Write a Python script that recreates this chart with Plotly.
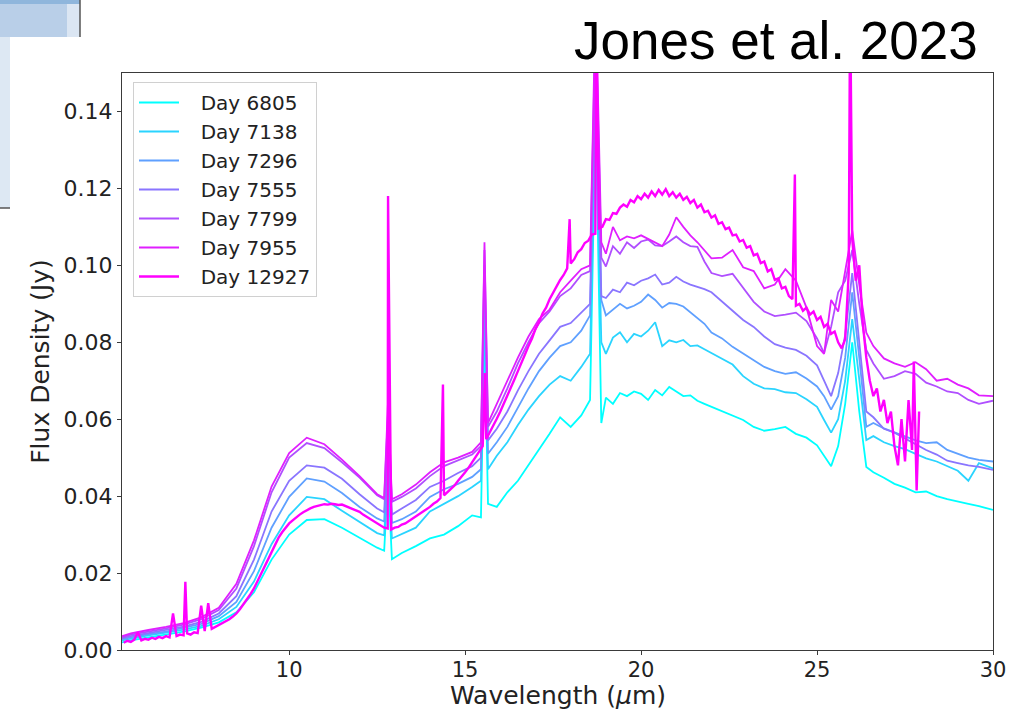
import plotly.graph_objects as go

# ---------------- data ----------------
wl_spitzer = [5.25, 5.5, 6.0, 6.5, 7.0, 7.5, 8.0, 8.5, 9.0, 9.5, 10.0, 10.5, 11.0, 11.5, 12.0,
              12.5, 12.7, 12.81, 12.92, 13.2, 13.6, 14.0, 14.4, 14.8, 15.2, 15.45, 15.55, 15.65,
              15.9, 16.2, 16.5, 16.8, 17.1, 17.4, 17.7, 18.0, 18.3, 18.55, 18.71, 18.87, 19.0,
              19.2, 19.4, 19.6, 19.8, 20.0, 20.2, 20.4, 20.6, 20.8, 21.0, 21.2, 21.4, 21.6, 21.8,
              22.0, 22.3, 22.6, 22.9, 23.2, 23.5, 23.8, 24.1, 24.4, 24.7, 25.0, 25.2, 25.4, 25.6,
              25.8, 26.0, 26.2, 26.4, 26.6, 26.9, 27.2, 27.5, 27.8, 28.1, 28.4, 28.7, 29.0, 29.3,
              29.6, 30.0]

flux_6805 = [0.0020, 0.0025, 0.0033, 0.0040, 0.0048, 0.0058, 0.0072, 0.0098, 0.0150, 0.0235,
             0.0300, 0.0338, 0.0340, 0.0318, 0.0292, 0.0266, 0.0258, 0.0450, 0.0236, 0.0252,
             0.0270, 0.0290, 0.0300, 0.0322, 0.0350, 0.0345, 0.0850, 0.0380, 0.0372, 0.0410,
             0.0440, 0.0480, 0.0520, 0.0562, 0.0605, 0.0580, 0.0610, 0.0650, 0.1400, 0.0590,
             0.0656, 0.0640, 0.0668, 0.0660, 0.0672, 0.0666, 0.0650, 0.0676, 0.0662, 0.0684,
             0.0672, 0.0660, 0.0662, 0.0648, 0.0640, 0.0632, 0.0622, 0.0608, 0.0598, 0.0580,
             0.0570, 0.0574, 0.0580, 0.0562, 0.0552, 0.0532, 0.0505, 0.0478, 0.0530, 0.0640,
             0.0800, 0.0620, 0.0476, 0.0462, 0.0448, 0.0432, 0.0422, 0.0410, 0.0412, 0.0400,
             0.0392, 0.0385, 0.0380, 0.0374, 0.0364]

flux_7138 = [0.0025, 0.0030, 0.0038, 0.0045, 0.0053, 0.0063, 0.0080, 0.0112, 0.0178, 0.0275,
             0.0350, 0.0398, 0.0392, 0.0362, 0.0332, 0.0304, 0.0298, 0.0500, 0.0290, 0.0302,
             0.0318, 0.0360, 0.0380, 0.0400, 0.0424, 0.0440, 0.0900, 0.0470, 0.0505, 0.0540,
             0.0585, 0.0625, 0.0660, 0.0690, 0.0712, 0.0700, 0.0736, 0.0770, 0.1450, 0.0800,
             0.0770, 0.0812, 0.0826, 0.0800, 0.0822, 0.0815, 0.0830, 0.0852, 0.0790, 0.0805,
             0.0800, 0.0806, 0.0790, 0.0792, 0.0782, 0.0772, 0.0758, 0.0742, 0.0712, 0.0692,
             0.0680, 0.0678, 0.0670, 0.0668, 0.0652, 0.0632, 0.0598, 0.0565, 0.0600, 0.0700,
             0.0860, 0.0700, 0.0546, 0.0556, 0.0540, 0.0530, 0.0522, 0.0510, 0.0498, 0.0490,
             0.0478, 0.0466, 0.0440, 0.0486, 0.0472]

flux_7296 = [0.0028, 0.0033, 0.0041, 0.0048, 0.0057, 0.0068, 0.0088, 0.0125, 0.0205, 0.0318,
             0.0398, 0.0446, 0.0438, 0.0408, 0.0372, 0.0342, 0.0334, 0.0550, 0.0330, 0.0340,
             0.0360, 0.0398, 0.0418, 0.0432, 0.0450, 0.0470, 0.0950, 0.0510, 0.0540, 0.0580,
             0.0630, 0.0680, 0.0725, 0.0760, 0.0790, 0.0800, 0.0830, 0.0870, 0.1500, 0.0910,
             0.0870, 0.0885, 0.0900, 0.0888, 0.0895, 0.0905, 0.0924, 0.0910, 0.0890, 0.0902,
             0.0900, 0.0893, 0.0878, 0.0862, 0.0848, 0.0825, 0.0810, 0.0788, 0.0770, 0.0752,
             0.0736, 0.0725, 0.0718, 0.0722, 0.0706, 0.0685, 0.0660, 0.0625, 0.0660, 0.0760,
             0.0930, 0.0760, 0.0580, 0.0590, 0.0576, 0.0566, 0.0556, 0.0545, 0.0538, 0.0540,
             0.0520, 0.0510, 0.0500, 0.0494, 0.0490]

flux_7555 = [0.0030, 0.0036, 0.0044, 0.0052, 0.0061, 0.0073, 0.0095, 0.0140, 0.0235, 0.0360,
             0.0440, 0.0480, 0.0474, 0.0445, 0.0405, 0.0368, 0.0358, 0.0580, 0.0352, 0.0368,
             0.0390, 0.0424, 0.0440, 0.0460, 0.0478, 0.0500, 0.1000, 0.0545, 0.0575, 0.0620,
             0.0675, 0.0725, 0.0770, 0.0805, 0.0840, 0.0850, 0.0878, 0.0900, 0.1600, 0.0920,
             0.0915, 0.0937, 0.0930, 0.0955, 0.0948, 0.0960, 0.0966, 0.0976, 0.0950, 0.0955,
             0.0970, 0.0958, 0.0950, 0.0945, 0.0938, 0.0930, 0.0905, 0.0882, 0.0858, 0.0840,
             0.0815, 0.0795, 0.0786, 0.0780, 0.0765, 0.0740, 0.0700, 0.0660, 0.0720, 0.0820,
             0.0980, 0.0800, 0.0620, 0.0605, 0.0575, 0.0565, 0.0550, 0.0535, 0.0520, 0.0508,
             0.0492, 0.0486, 0.0480, 0.0476, 0.0468]

flux_7799 = [0.0033, 0.0040, 0.0048, 0.0056, 0.0066, 0.0080, 0.0104, 0.0160, 0.0270, 0.0410,
             0.0500, 0.0538, 0.0525, 0.0488, 0.0448, 0.0402, 0.0392, 0.0620, 0.0385, 0.0398,
             0.0420, 0.0452, 0.0478, 0.0492, 0.0508, 0.0530, 0.1040, 0.0580, 0.0620, 0.0680,
             0.0745, 0.0800, 0.0850, 0.0880, 0.0920, 0.0940, 0.0975, 0.0985, 0.1650, 0.1020,
             0.0997, 0.1050, 0.1030, 0.1060, 0.1045, 0.1062, 0.1067, 0.1052, 0.1050, 0.1062,
             0.1075, 0.1060, 0.1050, 0.1048, 0.1010, 0.0980, 0.0972, 0.0978, 0.0940, 0.0905,
             0.0880, 0.0868, 0.0872, 0.0877, 0.0855, 0.0810, 0.0772, 0.0840, 0.0930, 0.0960,
             0.1040, 0.0900, 0.0780, 0.0745, 0.0705, 0.0712, 0.0725, 0.0718, 0.0695, 0.0685,
             0.0672, 0.0668, 0.0650, 0.0640, 0.0648]

flux_7955 = [0.0036, 0.0043, 0.0052, 0.0060, 0.0070, 0.0085, 0.0110, 0.0172, 0.0285, 0.0425,
             0.0512, 0.0552, 0.0535, 0.0495, 0.0452, 0.0405, 0.0395, 0.0650, 0.0392, 0.0405,
             0.0430, 0.0462, 0.0488, 0.0500, 0.0515, 0.0540, 0.1060, 0.0590, 0.0640, 0.0700,
             0.0760, 0.0815, 0.0860, 0.0885, 0.0930, 0.0960, 0.0990, 0.1000, 0.1700, 0.1060,
             0.1030, 0.1100, 0.1065, 0.1075, 0.1070, 0.1078, 0.1068, 0.1060, 0.1050, 0.1080,
             0.1125, 0.1100, 0.1078, 0.1060, 0.1040, 0.1018, 0.1020, 0.1040, 0.0995, 0.0985,
             0.0940, 0.0950, 0.0990, 0.0960, 0.0890, 0.0790, 0.0770, 0.0910, 0.0880, 0.0980,
             0.1090, 0.0950, 0.0825, 0.0790, 0.0758, 0.0745, 0.0736, 0.0748, 0.0730, 0.0700,
             0.0705, 0.0690, 0.0680, 0.0662, 0.0660]

# JWST (Day 12927): regular 0.1 um sampling from 5.3 to 27.9 um ...
wl_12927_start = 5.3
wl_12927_step = 0.1
flux_12927 = [
    0.0019, 0.0024, 0.0021, 0.0027, 0.0046, 0.0025, 0.0029,
    0.0027, 0.0032, 0.0029, 0.0034, 0.0031, 0.0036, 0.0033, 0.0095, 0.0036, 0.0040,
    0.0038, 0.0043, 0.0040, 0.0046, 0.0044, 0.0115, 0.0049, 0.0122, 0.0055, 0.0060,
    0.0064, 0.0068, 0.0074, 0.0080, 0.0087, 0.0095, 0.0106, 0.0118, 0.0131, 0.0145,
    0.0160, 0.0179, 0.0198, 0.0218, 0.0239, 0.0258, 0.0276, 0.0292, 0.0306, 0.0318,
    0.0329, 0.0337, 0.0345, 0.0352, 0.0358, 0.0364, 0.0368, 0.0372, 0.0375, 0.0377,
    0.0379, 0.0378, 0.0380, 0.0379, 0.0377, 0.0378, 0.0374, 0.0371, 0.0368, 0.0363,
    0.0359, 0.0352, 0.0346, 0.0340, 0.0334, 0.0329, 0.0323, 0.0318, 0.0316, 0.0313,
    0.0318, 0.0320, 0.0326, 0.0329, 0.0335, 0.0340, 0.0346, 0.0352, 0.0358, 0.0366,
    0.0372, 0.0380, 0.0386, 0.0395, 0.0402, 0.0410, 0.0420, 0.0428, 0.0440, 0.0450,
    0.0462, 0.0474, 0.0488, 0.0502, 0.0516, 0.0530, 0.0548, 0.0566, 0.0582, 0.0601,
    0.0620, 0.0640, 0.0660, 0.0682, 0.0703, 0.0725, 0.0745, 0.0768, 0.0790, 0.0810,
    0.0835, 0.0852, 0.0875, 0.0890, 0.0912, 0.0930, 0.0945, 0.0962, 0.0975, 0.0992,
    0.1005, 0.1016, 0.1034, 0.1042, 0.1058, 0.1064, 0.1080, 0.1082, 0.1096, 0.1100,
    0.1120, 0.1118, 0.1136, 0.1134, 0.1150, 0.1158, 0.1152, 0.1170, 0.1164, 0.1180,
    0.1172, 0.1186, 0.1176, 0.1192, 0.1180, 0.1196, 0.1184, 0.1198, 0.1180, 0.1190,
    0.1176, 0.1186, 0.1170, 0.1178, 0.1162, 0.1170, 0.1150, 0.1158, 0.1138, 0.1142,
    0.1124, 0.1130, 0.1108, 0.1112, 0.1094, 0.1098, 0.1078, 0.1080, 0.1062, 0.1066,
    0.1046, 0.1050, 0.1026, 0.1030, 0.1006, 0.1010, 0.0984, 0.0990, 0.0962, 0.0966,
    0.0940, 0.0944, 0.0920, 0.0912, 0.0895, 0.0900, 0.0882, 0.0890, 0.0872, 0.0880,
    0.0858, 0.0866, 0.0840, 0.0848, 0.0822, 0.0828, 0.0800, 0.0784, 0.0808, 0.0980,
    0.1070, 0.0960, 0.1000, 0.0850, 0.0760, 0.0700, 0.0660, 0.0680, 0.0620, 0.0650,
    0.0590, 0.0620, 0.0530, 0.0480, 0.0600, 0.0490, 0.0650, 0.0520, 0.0560, 0.0620,
]
# ... plus narrow emission lines / glitches of the JWST spectrum
line_wl_12927 = [7.05, 12.81, 14.37, 15.56, 17.97, 18.72, 24.37, 25.94, 27.75, 27.83]
line_flux_12927 = [0.0177, 0.118, 0.069, 0.072, 0.112, 0.17, 0.1236, 0.17, 0.075, 0.0415]

series_names = ["Day 6805", "Day 7138", "Day 7296", "Day 7555", "Day 7799", "Day 7955", "Day 12927"]
series_colors = ["#00ffff", "#2ad4ff", "#5fa0ff", "#8a75ff", "#b04fff", "#e01fff", "#ff00ff"]

x_ticks = [10, 15, 20, 25, 30]
y_ticks = [0.00, 0.02, 0.04, 0.06, 0.08, 0.10, 0.12, 0.14]

# ---------------- figure ----------------
W, H = 1018, 709
L, R, T, B = 122, 25, 73, 59
pw, ph = W - L - R, H - T - B


def px(xp):
    return (xp - L) / pw


def py(yp):
    return (H - B - yp) / ph


fig = go.Figure()

spitzer_fluxes = [flux_6805, flux_7138, flux_7296, flux_7555, flux_7799, flux_7955]
pad = "\u00a0\u00a0\u2009"
for name, flux, color in zip(series_names[:6], spitzer_fluxes, series_colors[:6]):
    fig.add_trace(go.Scatter(x=wl_spitzer, y=flux, mode="lines", name=pad + name,
                             line=dict(color=color, width=1.8)))

wl_grid = [round(wl_12927_start + wl_12927_step * i, 2) for i in range(len(flux_12927))]
pairs = sorted(zip(wl_grid + line_wl_12927, flux_12927 + line_flux_12927))
fig.add_trace(go.Scatter(x=[p[0] for p in pairs], y=[p[1] for p in pairs], mode="lines",
                         name=pad + series_names[6],
                         line=dict(color=series_colors[6], width=2.4)))

axis_common = dict(showline=True, linecolor="#3a3a3a", linewidth=1.2, mirror=True,
                   ticks="outside", ticklen=4, tickwidth=1.2, tickcolor="#3a3a3a",
                   showgrid=False, zeroline=False)

fig.update_layout(
    width=W, height=H,
    margin=dict(l=L, r=R, t=T, b=B, autoexpand=False),
    paper_bgcolor="white", plot_bgcolor="white",
    xaxis=dict(range=[5.25, 30], tickvals=x_ticks, ticktext=[str(v) for v in x_ticks],
               ticklabelstandoff=-3,
               tickfont=dict(family="DejaVu Sans", size=21, color="#222"),
               automargin=False, **axis_common),
    yaxis=dict(range=[0, 0.15], tickvals=y_ticks, ticktext=[f"{v:.2f}" for v in y_ticks],
               tickfont=dict(family="DejaVu Sans", size=22, color="#222"),
               title=dict(text="Flux Density (Jy)", standoff=6,
                          font=dict(family="DejaVu Sans", size=25, color="#222")),
               automargin=False, **axis_common),
    legend=dict(x=px(133), y=py(82), xanchor="left", yanchor="top",
                bgcolor="rgba(255,255,255,0.85)", bordercolor="#d0d0d0", borderwidth=1,
                font=dict(family="DejaVu Sans", size=20, color="#222"),
                tracegroupgap=0, itemwidth=40),
    showlegend=True,
    annotations=[
        dict(text="Jones et al. 2023", xref="paper", yref="paper",
             x=px(980), y=py(40), xanchor="right", yanchor="middle", showarrow=False,
             font=dict(family="Liberation Sans", size=53, color="black")),
        dict(text="Wavelength (<i>μ</i>m)", xref="paper", yref="paper",
             x=0.5, y=py(695), xanchor="center", yanchor="middle", showarrow=False,
             font=dict(family="DejaVu Sans", size=25, color="#222")),
    ],
    shapes=[
        dict(type="rect", xref="paper", yref="paper", x0=px(0), x1=px(80), y0=py(37), y1=py(0),
             fillcolor="#dbe6f3", line=dict(width=0), layer="below"),
        dict(type="rect", xref="paper", yref="paper", x0=px(0), x1=px(67), y0=py(37), y1=py(0),
             fillcolor="#b9cfe8", line=dict(width=0), layer="below"),
        dict(type="rect", xref="paper", yref="paper", x0=px(0), x1=px(80), y0=py(4), y1=py(0),
             fillcolor="#8fb6dc", line=dict(width=0), layer="below"),
        dict(type="rect", xref="paper", yref="paper", x0=px(0), x1=px(10), y0=py(208), y1=py(37),
             fillcolor="#dde8f3", line=dict(width=0), layer="below"),
        dict(type="line", xref="paper", yref="paper", x0=px(80), x1=px(80), y0=py(37), y1=py(0),
             line=dict(color="#555", width=1.5)),
        dict(type="line", xref="paper", yref="paper", x0=px(0), x1=px(10), y0=py(208), y1=py(208),
             line=dict(color="#555", width=1.5)),
    ],
)

fig.write_html("out.html")
